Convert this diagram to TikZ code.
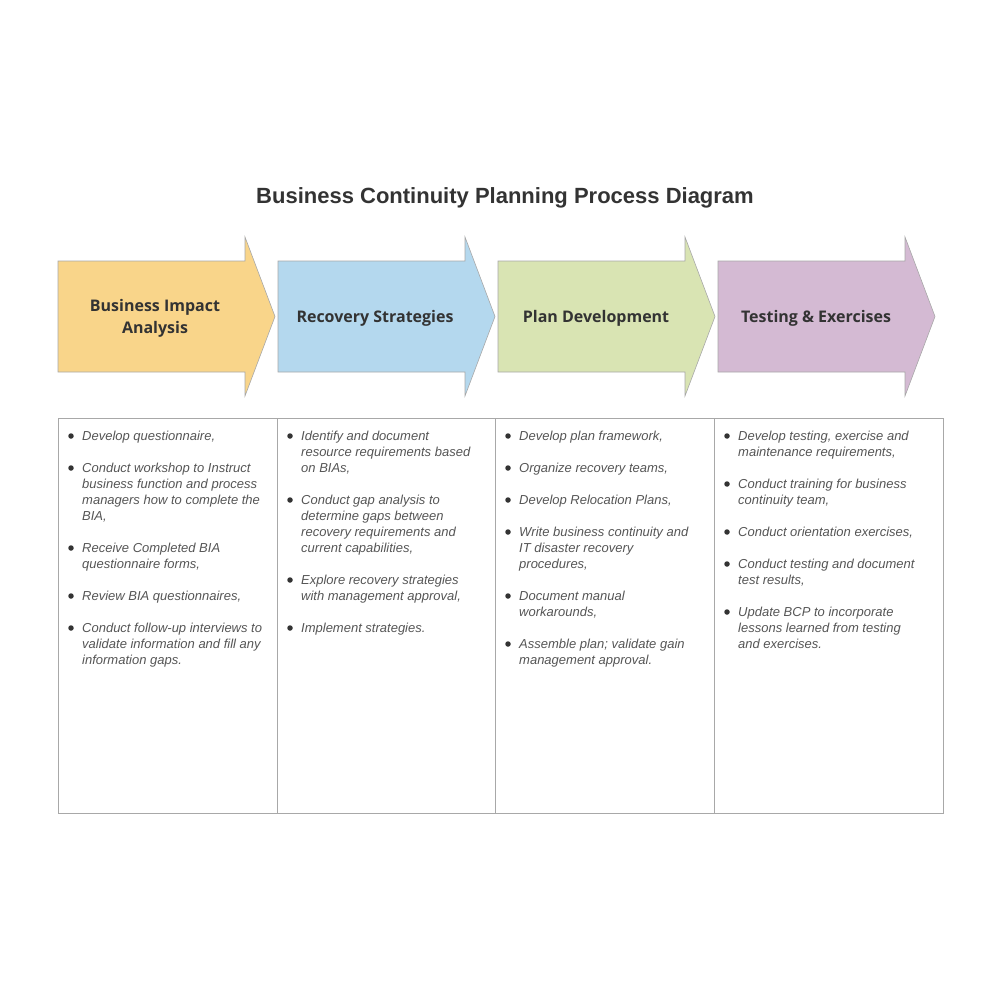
\documentclass[tikz,border=0pt]{standalone}
\usepackage{fontspec}
\setmainfont{Liberation Sans}
\newfontfamily\headfont{Open Sans}
\definecolor{txt}{HTML}{555555}
\definecolor{cA}{HTML}{F9D58A}
\definecolor{cB}{HTML}{B4D8EE}
\definecolor{cC}{HTML}{D9E4B3}
\definecolor{cD}{HTML}{D4BAD3}
\definecolor{bd}{HTML}{A8A8A8}
\tikzset{
  stage/.style={draw=bd, line width=0.6pt},
  head/.style={font=\headfont\bfseries\fontsize{16}{22}\selectfont, text=black!80, align=center},
  item/.style={anchor=north west, inner sep=0pt, align=left, text=txt,
    font=\itshape\fontsize{13}{16}\selectfont},
  dot/.style={circle, fill=black!80, inner sep=0pt, minimum size=5.5pt},
  col/.style={draw=bd, line width=0.6pt}
}
\newcommand{\bitem}[4]{%
  \node[dot] (#1d) at (#2-11,#3) {};
  \node[item] (#1) at (#2,#3-7.5) {\rule{0pt}{12pt}#4};}
\begin{document}
\begin{tikzpicture}[x=1pt,y=-1pt]
\useasboundingbox (0,0) rectangle (1000,1000);
\node[font=\bfseries\fontsize{22}{26}\selectfont, text=black!80] (title) at (505,198) {Business Continuity Planning Process Diagram};
% arrows
\foreach \x/\c/\n in {58/cA/a1,278/cB/a2,498/cC/a3,718/cD/a4}{
  \draw[stage, fill=\c] (\x,261) -- (\x+187,261) -- (\x+187,237) -- (\x+217,316.5) -- (\x+187,396) -- (\x+187,372) -- (\x,372) -- cycle;
}
\node[head] (h1) at (155,318) {Business Impact\\Analysis};
\node[head] (h2) at (375,318) {Recovery Strategies};
\node[head] (h3) at (596,318) {Plan Development};
\node[head] (h4) at (816,318) {Testing \& Exercises};
% table
\draw[col] (58,418) rectangle (277,813);
\draw[col] (277,418) rectangle (495,813);
\draw[col] (495,418) rectangle (714,813);
\draw[col] (714,418) rectangle (943,813);
% column 1
\bitem{i11}{82}{436}{Develop questionnaire,}
\bitem{i12}{82}{468}{Conduct workshop to Instruct\\business function and process\\managers how to complete the\\BIA,}
\bitem{i13}{82}{548}{Receive Completed BIA\\questionnaire forms,}
\bitem{i14}{82}{596}{Review BIA questionnaires,}
\bitem{i15}{82}{628}{Conduct follow-up interviews to\\validate information and fill any\\information gaps.}
% column 2
\bitem{i21}{301}{436}{Identify and document\\resource requirements based\\on BIAs,}
\bitem{i22}{301}{500}{Conduct gap analysis to\\determine gaps between\\recovery requirements and\\current capabilities,}
\bitem{i23}{301}{580}{Explore recovery strategies\\with management approval,}
\bitem{i24}{301}{628}{Implement strategies.}
% column 3
\bitem{i31}{519}{436}{Develop plan framework,}
\bitem{i32}{519}{468}{Organize recovery teams,}
\bitem{i33}{519}{500}{Develop Relocation Plans,}
\bitem{i34}{519}{532}{Write business continuity and\\IT disaster recovery\\procedures,}
\bitem{i35}{519}{596}{Document manual\\workarounds,}
\bitem{i36}{519}{644}{Assemble plan; validate gain\\management approval.}
% column 4
\bitem{i41}{738}{436}{Develop testing, exercise and\\maintenance requirements,}
\bitem{i42}{738}{484}{Conduct training for business\\continuity team,}
\bitem{i43}{738}{532}{Conduct orientation exercises,}
\bitem{i44}{738}{564}{Conduct testing and document\\test results,}
\bitem{i45}{738}{612}{Update BCP to incorporate\\lessons learned from testing\\and exercises.}
\end{tikzpicture}
\end{document}
